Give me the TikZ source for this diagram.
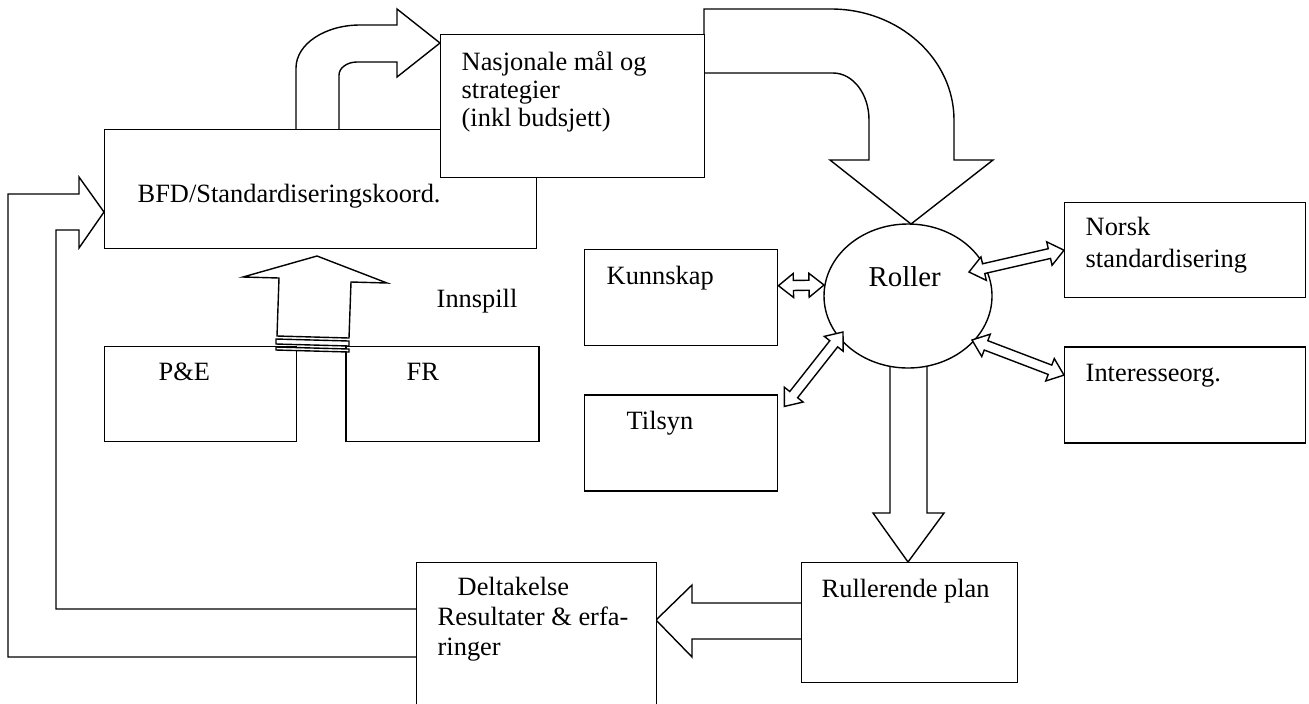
\documentclass[tikz,border=0pt]{standalone}
\usepackage{fontspec}
\setmainfont{Liberation Serif}
\usepackage{tikz}
\usetikzlibrary{
  calc,
  positioning,
  shapes.geometric,
}
\tikzstyle{box} = [
  rectangle,
  draw,
  fill=white,
  anchor=north west,
  inner sep=0pt,
]
\tikzstyle{fat} = [
  draw,
  fill=white,
  line join=miter,
]
\tikzstyle{txt} = [
  anchor=base west,
  inner sep=0pt,
  align=left,
  font=\fontsize{13.2}{14}\selectfont,
]
\newcommand{\twoway}[2]{%
  \draw[fat] (#1)
    -- ($($(#1)!7.5pt!(#2)$)!6pt!90:(#2)$)
    -- ($($(#1)!7.5pt!(#2)$)!2.5pt!90:(#2)$)
    -- ($($(#2)!7.5pt!(#1)$)!2.5pt!90:(#2)$)
    -- ($($(#2)!7.5pt!(#1)$)!6pt!90:(#2)$)
    -- (#2)
    -- ($($(#2)!7.5pt!(#1)$)!6pt!-90:(#2)$)
    -- ($($(#2)!7.5pt!(#1)$)!2.5pt!-90:(#2)$)
    -- ($($(#1)!7.5pt!(#2)$)!2.5pt!-90:(#2)$)
    -- ($($(#1)!7.5pt!(#2)$)!6pt!-90:(#2)$)
    -- cycle;}

\begin{document}
\begin{tikzpicture}[x=0.5pt,y=-0.5pt,line width=0.7pt]
  \useasboundingbox (0,0) rectangle (1309,703);

  \draw[fat] (8,194) -- (79,194) -- (79,177) -- (104,212) -- (79,248) -- (79,230) -- (56,230) -- (56,609) -- (420,609) -- (420,657) -- (8,657) -- cycle;
  \draw[fat] (296,133) -- (296,68) .. controls (296,44) and (325,25) .. (360,25) -- (397,25) -- (397,9) -- (440,43) -- (397,77) -- (397,62) -- (357,62) .. controls (347,62) and (339,68) .. (339,75) -- (339,133) -- cycle;
  \draw[fat] (704,9) -- (831,9) .. controls (899,9) and (954,59) .. (954,120) -- (954,160) -- (993,160) -- (911,224) -- (830,160) -- (869,160) -- (869,120) .. controls (869,94) and (853,73) .. (833,73) -- (704,73) -- cycle;
  \draw[fat] (890,350) -- (890,513) -- (873,513) -- (908,562) -- (944,513) -- (927,513) -- (927,350) -- cycle;
  \draw[fat] (805,603) -- (692,603) -- (692,585) -- (656,620) -- (692,657) -- (692,639) -- (805,639) -- cycle;
  \draw[fat] (277,336) -- (279,278) -- (243,277) -- (317,256) -- (387,283) -- (351,282) -- (349,338) -- cycle;

  \node[box,minimum width=216,minimum height=59.5] (bfd) at (104,129) {};
  \node[box,minimum width=132,minimum height=71.5] (nasjonal) at (440,34) {};
  \node[box,minimum width=96.5,minimum height=48] (kunnskap) at (584,249) {};
  \node[box,minimum width=96.5,minimum height=48,below=24pt of kunnskap] (tilsyn) {};
  \node[box,minimum width=120.5,minimum height=47.5] (norsk) at (1064,202) {};
  \node[box,minimum width=120.5,minimum height=48,below=24pt of norsk] (interesse) {};
  \node[box,minimum width=96,minimum height=47.5] (pe) at (104,346) {};
  \node[box,minimum width=96.5,minimum height=47.5,right=24pt of pe] (fr) {};
  \node[box,minimum width=108,minimum height=60] (rullplan) at (801,562) {};
  \node[box,minimum width=120,minimum height=80] (deltak) at (416,562) {};
  \node[ellipse,draw,fill=white,minimum width=84,minimum height=72,inner sep=0pt] (roller) at (908,296) {};

  \draw[fat] (276,339) -- (349,341) -- (349,346) -- (276,344) -- cycle;
  \draw[fat] (276,347) -- (349,349) -- (349,352) -- (276,350) -- cycle;

  \node[txt] (bfdtxt) at (137,202) {BFD/Standardiseringskoord.};
  \node[txt] (nasjtxt) at (461,126) {Nasjonale mål og\\strategier\\(inkl budsjett)};
  \node[txt] (kunntxt) at (606,284) {Kunnskap};
  \node[txt,font=\fontsize{14.4}{16}\selectfont] (rolltxt) at (868,286) {Roller};
  \node[txt] (tilstxt) at (626,429) {Tilsyn};
  \node[txt,font=\fontsize{13.2}{16}\selectfont] (norsktxt) at (1085,267) {Norsk\\standardisering};
  \node[txt] (inttxt) at (1085,381) {Interesseorg.};
  \node[txt] (petxt) at (158,380) {P\&E};
  \node[txt] (frtxt) at (406,380) {FR};
  \node[txt] (innspill) at (436,307) {Innspill};
  \node[txt] (rulltxt) at (821,597) {Rullerende plan};
  \node[txt,font=\fontsize{13.2}{15}\selectfont] (deltxt) at (437,655) {\hspace*{10pt}Deltakelse\\Resultater \& erfa-\\ringer};

  \coordinate (k1) at ([shift={(0,-12)}]kunnskap.east);
  \coordinate (k2) at ([shift={(-84,-11)}]roller.center);
  \coordinate (t1) at ([shift={(6,12)}]tilsyn.north east);
  \coordinate (t2) at ([shift={(-65,36)}]roller.center);
  \coordinate (n1) at ([shift={(61,-24)}]roller.center);
  \coordinate (n2) at (norsk.west);
  \coordinate (i1) at ([shift={(64,44)}]roller.center);
  \coordinate (i2) at ([shift={(0,-20)}]interesse.west);
  \twoway{k1}{k2}
  \twoway{t1}{t2}
  \twoway{n1}{n2}
  \twoway{i1}{i2}
\end{tikzpicture}
\end{document}
